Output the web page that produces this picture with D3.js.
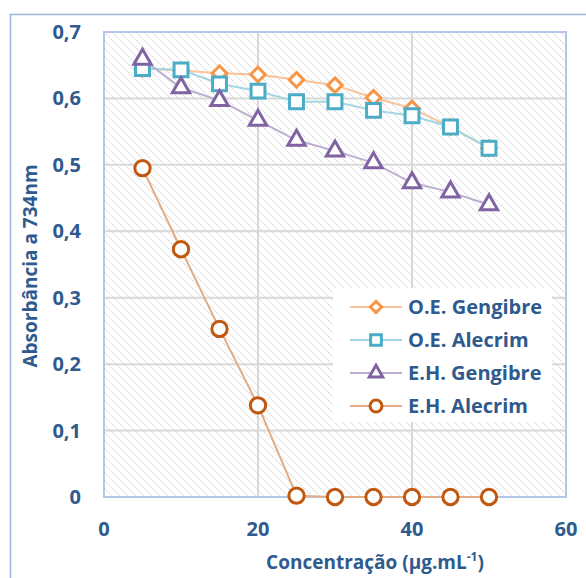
<!DOCTYPE html>
<html>
<head>
<meta charset="utf-8">
<script src="https://cdn.jsdelivr.net/npm/d3@7"></script>
<style>
  body { margin: 0; background: #fff; }
  text { font-family: "Open Sans", Lato, sans-serif; font-weight: 700; fill: #2E5A8E; }
</style>
</head>
<body>
<svg width="586" height="578"></svg>
<script>
"use strict";

// concentration (ug/mL)
const concentrations = [5, 10, 15, 20, 25, 30, 35, 40, 45, 50];

const oeGengibre = [0.645, 0.642, 0.638, 0.636, 0.628, 0.620, 0.601, 0.585, 0.557, 0.525];
const oeAlecrim = [0.645, 0.643, 0.622, 0.611, 0.595, 0.595, 0.582, 0.574, 0.557, 0.525];
const ehGengibre = [0.659, 0.616, 0.597, 0.567, 0.537, 0.521, 0.503, 0.473, 0.459, 0.440];
const ehAlecrim = [0.495, 0.373, 0.253, 0.138, 0.002, 0, 0, 0, 0, 0];

const seriesNames = ["O.E. Gengibre", "O.E. Alecrim", "E.H. Gengibre", "E.H. Alecrim"];
const xTicks = [0, 20, 40, 60];
const yTicks = [0, 0.1, 0.2, 0.3, 0.4, 0.5, 0.6, 0.7];

const series = [
  { name: seriesNames[0], values: oeGengibre, symbol: d3.symbolDiamond2, size: 135, stroke: "#F79646", line: "#F9C39B" },
  { name: seriesNames[1], values: oeAlecrim, symbol: d3.symbolSquare2, size: 245, stroke: "#4BACC6", line: "#A3D6E4" },
  { name: seriesNames[2], values: ehGengibre, symbol: d3.symbolTriangle2, size: 215, stroke: "#8064A2", line: "#BCAED2" },
  { name: seriesNames[3], values: ehAlecrim, symbol: d3.symbolCircle, size: 185, stroke: "#C0580F", line: "#E3AC84" }
];

const fontSize = "20px";
const yFormat = d => d3.format(".1~f")(d).replace(".", ",");

const svg = d3.select("svg");
const margin = { top: 32, right: 20, bottom: 81, left: 104 };
const width = +svg.attr("width");
const height = +svg.attr("height");
const innerWidth = width - margin.left - margin.right;
const innerHeight = height - margin.top - margin.bottom;

// outer chart border (only top and left are in view)
svg.append("path")
  .attr("d", `M10.5,${height}V14.5H${width}`)
  .attr("fill", "none")
  .attr("stroke", "#9DB5DB")
  .attr("stroke-width", 1.5);

const defs = svg.append("defs");
const pat = defs.append("pattern")
  .attr("id", "hatch")
  .attr("patternUnits", "userSpaceOnUse")
  .attr("width", 8).attr("height", 8);
pat.append("rect").attr("width", 8).attr("height", 8).attr("fill", "#fff");
pat.append("path")
  .attr("d", "M-2,-2L10,10M-2,6L2,10M6,-2L10,2")
  .attr("stroke", "#D8D8D8")
  .attr("stroke-width", 1.1)
  .attr("stroke-dasharray", "2,1.2");

const xScale = d3.scaleLinear().domain([0, 60]).range([0, innerWidth]);
const yScale = d3.scaleLinear().domain([0, 0.7]).range([innerHeight, 0]);

const g = svg.append("g").attr("transform", `translate(${margin.left},${margin.top})`);

g.append("rect")
  .attr("width", innerWidth).attr("height", innerHeight)
  .attr("fill", "url(#hatch)");

// gridlines
g.append("g")
  .selectAll("line")
  .data(yTicks.slice(1))
  .enter().append("line")
  .attr("x1", 0).attr("x2", innerWidth)
  .attr("y1", d => yScale(d)).attr("y2", d => yScale(d))
  .attr("stroke", "#D9D9D9").attr("stroke-width", 2);
g.append("g")
  .selectAll("line")
  .data(xTicks.slice(1, -1))
  .enter().append("line")
  .attr("x1", d => xScale(d)).attr("x2", d => xScale(d))
  .attr("y1", 0).attr("y2", innerHeight)
  .attr("stroke", "#D9D9D9").attr("stroke-width", 2);

g.append("rect")
  .attr("width", innerWidth).attr("height", innerHeight)
  .attr("fill", "none")
  .attr("stroke", "#B4C7E7").attr("stroke-width", 2);

// tick labels
g.append("g")
  .selectAll("text")
  .data(yTicks)
  .enter().append("text")
  .attr("x", -23)
  .attr("y", d => yScale(d))
  .attr("dy", "0.35em")
  .attr("text-anchor", "end")
  .style("font-size", fontSize)
  .text(yFormat);

g.append("g")
  .selectAll("text")
  .data(xTicks)
  .enter().append("text")
  .attr("x", d => xScale(d))
  .attr("y", innerHeight + 39)
  .attr("text-anchor", "middle")
  .style("font-size", fontSize)
  .text(d => d);

// axis titles
const xTitle = svg.append("text")
  .attr("x", 375).attr("y", 569)
  .attr("text-anchor", "middle")
  .style("font-size", "19px");
xTitle.append("tspan").text("Concentração (μg.mL");
xTitle.append("tspan").attr("dy", -8).style("font-size", "12px").text("-1");
xTitle.append("tspan").attr("dy", 8).text(")");

svg.append("text")
  .attr("transform", "translate(37,266) rotate(-90)")
  .attr("text-anchor", "middle")
  .style("font-size", "19px")
  .text("Absorbância a 734nm");

const line = d3.line()
  .x((d, i) => xScale(concentrations[i]))
  .y(d => yScale(d));

series.forEach(s => {
  const sg = g.append("g");
  sg.append("path")
    .attr("d", line(s.values))
    .attr("fill", "none")
    .attr("stroke", s.line)
    .attr("stroke-width", 2);
  sg.selectAll("path.pt")
    .data(s.values)
    .enter().append("path")
    .attr("class", "pt")
    .attr("transform", (d, i) => `translate(${xScale(concentrations[i])},${yScale(d)})`)
    .attr("d", d3.symbol(s.symbol, s.size))
    .attr("fill", "#fff")
    .attr("stroke", s.stroke)
    .attr("stroke-width", 3);
});

// legend
const legend = svg.append("g").attr("transform", "translate(333,288)");
legend.append("rect")
  .attr("width", 219).attr("height", 134)
  .attr("fill", "#fff");
series.forEach((s, i) => {
  const row = legend.append("g").attr("transform", `translate(0,${19 + i * 33})`);
  row.append("line")
    .attr("x1", 17).attr("x2", 69)
    .attr("stroke", s.line).attr("stroke-width", 2);
  row.append("path")
    .attr("transform", "translate(43,0)")
    .attr("d", d3.symbol(s.symbol, s.size * 0.6))
    .attr("fill", "#fff")
    .attr("stroke", s.stroke)
    .attr("stroke-width", 3);
  row.append("text")
    .attr("x", 75).attr("dy", "0.35em")
    .style("font-size", fontSize)
    .text(s.name);
});
</script>
</body>
</html>
